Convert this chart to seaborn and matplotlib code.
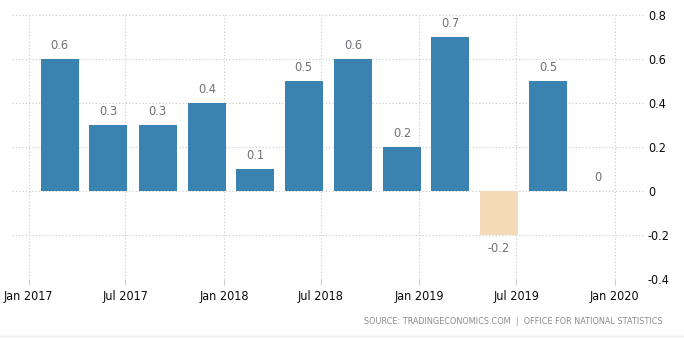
import matplotlib
matplotlib.use("Agg")
import matplotlib.pyplot as plt
import matplotlib.dates as mdates
import matplotlib.font_manager as fm
from matplotlib.ticker import FixedLocator, FuncFormatter
from matplotlib.lines import Line2D
import numpy as np
import pandas as pd
import seaborn as sns

# ---- data ----
quarter_ends = ["2017-03-31", "2017-06-30", "2017-09-30", "2017-12-31",
                "2018-03-31", "2018-06-30", "2018-09-30", "2018-12-31",
                "2019-03-31", "2019-06-30", "2019-09-30", "2019-12-31"]
values = [0.6, 0.3, 0.3, 0.4, 0.1, 0.5, 0.6, 0.2, 0.7, -0.2, 0.5, 0.0]
y_ticks = [-0.4, -0.2, 0.0, 0.2, 0.4, 0.6, 0.8]
source_text = "SOURCE: TRADINGECONOMICS.COM  |  OFFICE FOR NATIONAL STATISTICS"

# ---- style ----
sns.set_theme(style="white")


def is_regular(f):
    w = f.weight
    return w in (400, "normal", "regular", "book") and str(f.style) == "normal"


# pick a regular-weight condensed font if one is installed
entries = fm.fontManager.ttflist
font_family = ["DejaVu Sans"]
font_stretch = "normal"
condensed = False
dejavu_cond = [f for f in entries if f.name == "DejaVu Sans" and is_regular(f)
               and str(f.stretch).lower() in ("condensed", "semi-condensed")]
if any(f.name == "DejaVu Sans Condensed" and is_regular(f) for f in entries):
    font_family = ["DejaVu Sans Condensed", "DejaVu Sans"]
    condensed = True
elif dejavu_cond:
    font_stretch = "condensed"
    condensed = True
elif any(f.name == "Liberation Sans Narrow" and is_regular(f) for f in entries):
    font_family = ["Liberation Sans Narrow", "DejaVu Sans"]
    condensed = True
plt.rcParams["font.family"] = font_family
plt.rcParams["font.stretch"] = font_stretch
plt.rcParams["font.weight"] = "normal"

tick_fs = 9.0 if condensed else 7.6
label_fs = 9.2 if condensed else 7.8

POS_COLOR = "#3A83B0"
NEG_COLOR = "#F5DBB8"

dates = pd.to_datetime(quarter_ends) - pd.Timedelta(days=31)
df = pd.DataFrame({
    "x": mdates.date2num(dates.to_pydatetime()),
    "value": values,
    "sign": ["neg" if v < 0 else "pos" for v in values],
})

fig = plt.figure(figsize=(6.84, 3.38), dpi=100)
ax = fig.add_axes([12 / 684, (338 - 279) / 338, (645 - 12) / 684, (279 - 15) / 338])

sns.barplot(data=df, x="x", y="value", hue="sign", native_scale=True,
            palette={"pos": POS_COLOR, "neg": NEG_COLOR}, width=0.79,
            errorbar=None, legend=False, ax=ax, saturation=1, linewidth=0)

for c in ax.containers:
    ax.bar_label(c, fmt=lambda v: f"{v:g}", padding=5, color="#707078",
                 fontsize=label_fs)

# axes limits
ax.set_xlim(mdates.date2num(pd.Timestamp("2016-12-01")),
            mdates.date2num(pd.Timestamp("2020-02-27")))
ax.set_ylim(y_ticks[0], y_ticks[-1])

# x axis: dates
ax.xaxis.set_major_locator(mdates.MonthLocator(bymonth=[1, 7]))
ax.xaxis.set_major_formatter(mdates.DateFormatter("%b %Y"))
ax.set_xlabel("")
ax.set_ylabel("")

# y axis on the right
ax.yaxis.tick_right()
ax.yaxis.set_major_locator(FixedLocator(y_ticks))
ax.yaxis.set_major_formatter(FuncFormatter(lambda v, p: f"{v:g}" if abs(v) > 1e-9 else "0"))

ax.tick_params(axis="x", length=4, width=0.8, color="#cccccc", pad=4,
               labelsize=tick_fs, labelcolor="#0a0a0a", bottom=True)
ax.tick_params(axis="y", length=0, pad=2, labelsize=tick_fs, labelcolor="#0a0a0a")

ax.grid(True, axis="both", linestyle=(0, (1, 2)), color="#c8c8c8", linewidth=0.8)
ax.set_axisbelow(True)
for s in ax.spines.values():
    s.set_visible(False)

fig.text(663 / 684, 1 - 321 / 338, source_text, ha="right", va="center",
         fontsize=5.9, color="#8a8a8a", family="DejaVu Sans", stretch="normal")
fig.add_artist(Line2D([0, 1], [1 - 336 / 338] * 2, color="#eeeeee", linewidth=1,
                      transform=fig.transFigure))

fig.savefig("out.png", dpi=100)
